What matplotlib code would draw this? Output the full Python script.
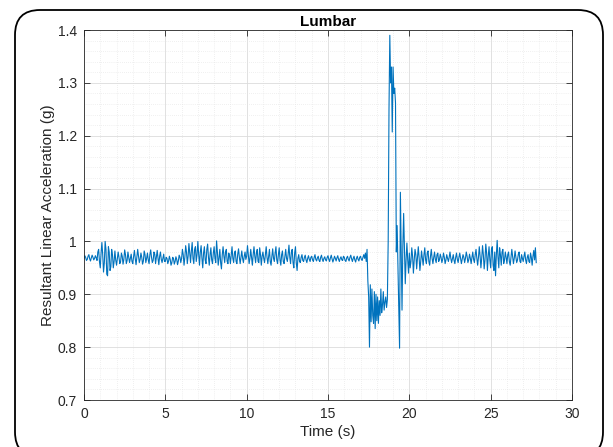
import numpy as np
import matplotlib
matplotlib.use("Agg")
import matplotlib.pyplot as plt
from matplotlib.patches import FancyBboxPatch
from matplotlib.ticker import MultipleLocator, FormatStrFormatter

# resultant acceleration, in milli-g, one row per second (20 Hz)
acc_mg = [
    968, 973, 970, 964, 966, 972, 975, 967, 963, 969, 974, 970, 965, 968, 973, 969, 964, 980, 985, 962,
    950, 978, 998, 975, 942, 960, 1000, 985, 938, 935, 990, 980, 945, 952, 985, 975, 950, 962, 982, 965,
    955, 968, 980, 970, 958, 962, 978, 972, 957, 966, 984, 975, 958, 964, 980, 970, 960, 968, 976, 962,
    958, 972, 983, 968, 956, 970, 985, 972, 960, 966, 978, 970, 957, 963, 982, 975, 960, 968, 978, 965,
    958, 975, 984, 970, 960, 964, 980, 976, 958, 970, 983, 968, 956, 972, 980, 966, 960, 968, 976, 962,
    962, 970, 968, 958, 963, 972, 966, 955, 960, 970, 968, 957, 962, 971, 966, 956, 963, 974, 970, 960,
    968, 985, 975, 955, 970, 992, 980, 958, 972, 996, 978, 960, 982, 998, 968, 958, 985, 990, 962, 975,
    1000, 975, 955, 980, 992, 968, 950, 978, 990, 965, 958, 985, 995, 970, 955, 975, 988, 965, 958, 978,
    990, 968, 960, 1001, 980, 955, 968, 985, 960, 948, 975, 990, 972, 960, 980, 985, 962, 958, 978, 972,
    958, 975, 990, 968, 960, 978, 982, 962, 958, 976, 986, 970, 958, 970, 982, 968, 960, 972, 980, 966,
    972, 992, 975, 958, 968, 985, 970, 955, 975, 990, 972, 960, 978, 985, 962, 960, 988, 975, 955, 972,
    980, 968, 960, 975, 990, 970, 958, 972, 985, 962, 955, 972, 986, 968, 962, 978, 990, 965, 958, 975,
    988, 965, 955, 975, 982, 962, 958, 972, 985, 968, 962, 976, 993, 970, 958, 980, 985, 960, 950, 978,
    990, 960, 945, 968, 975, 962, 960, 970, 975, 964, 962, 970, 974, 965, 960, 968, 973, 966, 962, 970,
    972, 965, 962, 970, 975, 966, 963, 969, 972, 964, 962, 970, 974, 966, 962, 968, 971, 965, 963, 970,
    973, 966, 962, 969, 974, 967, 961, 966, 972, 968, 963, 969, 973, 966, 962, 968, 971, 965, 964, 972,
    970, 964, 962, 969, 972, 966, 963, 970, 974, 967, 962, 968, 972, 965, 961, 968, 972, 966, 963, 970,
    972, 966, 964, 970, 975, 968, 978, 962, 985, 925, 895, 800, 918, 848, 910, 860, 845, 905, 835, 900,
    850, 895, 845, 888, 860, 910, 865, 880, 905, 870, 885, 895, 875, 890, 1000, 1250, 1390, 1300, 1330, 1207,
    1330, 1280, 1290, 1262, 980, 1030, 950, 870, 798, 1093, 980, 870, 990, 1053, 985, 920, 965, 997, 965, 940,
    978, 950, 962, 988, 972, 940, 965, 985, 975, 948, 968, 990, 970, 945, 962, 982, 968, 955, 975, 988,
    965, 958, 978, 982, 962, 955, 972, 985, 968, 958, 970, 980, 966, 960, 975, 978, 962, 965, 976, 970,
    960, 966, 978, 970, 958, 965, 975, 968, 962, 970, 980, 968, 960, 968, 975, 964, 958, 970, 978, 966,
    960, 970, 978, 968, 958, 966, 975, 970, 960, 968, 980, 972, 960, 965, 976, 968, 958, 970, 980, 966,
    960, 975, 985, 968, 955, 970, 990, 972, 950, 968, 992, 975, 948, 965, 995, 978, 945, 972, 990, 965,
    950, 985, 990, 955, 945, 980, 935, 975, 1002, 970, 950, 988, 975, 955, 980, 985, 958, 965, 980, 970,
    958, 975, 980, 962, 955, 970, 985, 972, 958, 968, 982, 970, 960, 965, 976, 980, 962, 960, 975, 968,
    962, 972, 980, 965, 958, 970, 975, 962, 960, 978, 970, 955, 972, 983, 965, 988, 960,
]
dt = 0.05  # sample step (s)

acc = np.array(acc_mg) / 1000.0
t = np.arange(len(acc)) * dt

plt.rcParams['font.family'] = ['Liberation Sans', 'DejaVu Sans']

fig = plt.figure(figsize=(6.13, 4.47), dpi=100)
ax = fig.add_axes([84 / 613, 1 - 400 / 447, (572 - 84) / 613, (400 - 30) / 447])

ax.plot(t, acc, color='#0072BD', linewidth=0.8)

ax.set_xlim(0, 30)
ax.set_ylim(0.7, 1.4)
ax.xaxis.set_major_locator(MultipleLocator(5))
ax.xaxis.set_minor_locator(MultipleLocator(1))
ax.yaxis.set_major_locator(MultipleLocator(0.1))
ax.yaxis.set_minor_locator(MultipleLocator(0.02))
ax.yaxis.set_major_formatter(FormatStrFormatter('%g'))
ax.xaxis.set_major_formatter(FormatStrFormatter('%g'))

ax.grid(which='major', color='#dcdcdc', linewidth=0.6)
ax.grid(which='minor', color='#e2e2e2', linewidth=0.5, linestyle=(0, (1, 2)))
ax.set_axisbelow(True)
ax.tick_params(which='major', direction='in', top=True, right=True, length=4,
               width=0.6, labelsize=10, colors='#262626', pad=5)
ax.tick_params(which='minor', length=0)
for sp in ax.spines.values():
    sp.set_color('#262626')
    sp.set_linewidth(0.6)

ax.set_title('Lumbar', fontsize=11, fontweight='bold', pad=3)
ax.set_xlabel('Time (s)', fontsize=11, color='#262626', labelpad=3)
ax.set_ylabel('Resultant Linear Acceleration (g)', fontsize=11, color='#262626', labelpad=2)

# rounded outer frame
frame = FancyBboxPatch((0.15, -0.1), 5.88, 4.47,
                       boxstyle='round,pad=0,rounding_size=0.25',
                       transform=fig.dpi_scale_trans, facecolor='none',
                       edgecolor='black', linewidth=1.3, clip_on=False)
fig.patches.append(frame)

fig.savefig('out.png', dpi=100)
